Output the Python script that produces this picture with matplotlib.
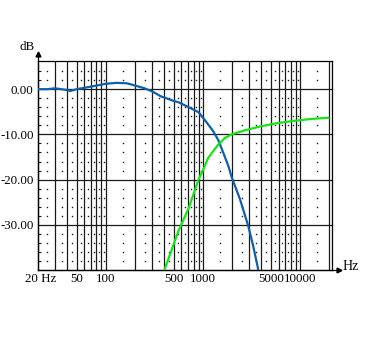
import matplotlib
matplotlib.use("Agg")
import matplotlib.pyplot as plt
import numpy as np

# (Hz, dB)
blue_hz = [20, 25, 30, 40, 43, 50, 60, 80, 100, 130, 165, 200, 250, 300, 370,
           500, 560, 715, 900, 1000, 1130, 1275, 1440, 1620, 1825, 1970, 2400,
           2920, 3280, 3680, 3750]
blue_db = [0.0, 0.0, 0.2, -0.2, -0.4, 0.0, 0.3, 0.8, 1.2, 1.4, 1.3, 0.8, 0.2,
           -0.5, -1.6, -2.6, -2.9, -4.0, -5.1, -6.3, -7.8, -9.3, -11.3, -14.1,
           -17.0, -19.4, -24.3, -30.2, -34.6, -39.6, -41.0]

green_hz = [400, 560, 715, 900, 1010, 1130, 1275, 1440, 1680, 1970, 2700,
            3970, 5840, 8700, 12800, 20000]
green_db = [-40.0, -31.3, -26.2, -20.0, -17.7, -15.2, -13.7, -12.2, -10.8,
            -10.0, -9.1, -8.2, -7.5, -7.0, -6.6, -6.3]

x_ticks = [50, 100, 500, 1000, 5000, 10000]
x_labels = ["50", "100", "500", "1000", "5000", "10000"]
y_ticks = [0, -10, -20, -30]
y_labels = ["0.00", "-10.00", "-20.00", "-30.00"]

XMIN, XMAX = 20, 21300
YMIN, YMAX = -40, 6.3
SERIF = "Liberation Serif"
FS = 9.3
GRID = "#1a1a1a"

fig = plt.figure(figsize=(3.65, 3.4), dpi=100)
ax = fig.add_axes([38 / 365, 70 / 340, 294 / 365, 209.3 / 340])
ax.set_xscale("log")
ax.set_xlim(XMIN, XMAX)
ax.set_ylim(YMIN, YMAX)

# major grid: vertical lines at 1..9 x decade, horizontal every 10 dB
vgrid = [m * 10 ** d for d in range(1, 5) for m in range(1, 10)]
vgrid = [v for v in vgrid if XMIN < v <= 20000]
for v in vgrid:
    ax.axvline(v, color=GRID, lw=0.9, zorder=1)
for h in y_ticks:
    ax.axhline(h, color=GRID, lw=0.9, zorder=1)

# dotted minor grid: half steps in x, every 2 dB in y
dot_x = [(m + 0.5) * 10 ** d for d in range(1, 5) for m in range(1, 10)]
dot_x = [v for v in dot_x if XMIN < v < 20000]
dot_y = [v for v in range(-38, 6, 2) if v % 10 != 0]
dx, dy = np.meshgrid(dot_x, dot_y)
ax.plot(dx.ravel(), dy.ravel(), ls="none", marker="s", ms=1.0,
        mec="none", mfc=GRID, zorder=1)
ax.set_yticks(dot_y, minor=True)
ax.tick_params(axis="y", which="minor", direction="in", length=2,
               width=0.8, color=GRID)

ax.plot(blue_hz, blue_db, color="#0f5fb0", lw=1.6, zorder=3,
        solid_capstyle="butt")
ax.plot(green_hz, green_db, color="#14e614", lw=1.6, zorder=3,
        solid_capstyle="butt")

for s in ax.spines.values():
    s.set_color("black")
    s.set_linewidth(0.9)

ax.set_xticks(x_ticks)
ax.set_xticklabels(x_labels)
ax.xaxis.set_minor_locator(matplotlib.ticker.NullLocator())
ax.set_yticks(y_ticks)
ax.set_yticklabels(y_labels)
ax.tick_params(axis="both", which="major", length=0)
ax.tick_params(axis="x", pad=2.5)
ax.tick_params(axis="y", pad=3.2)
for lab in ax.get_xticklabels() + ax.get_yticklabels():
    lab.set_fontfamily(SERIF)
    lab.set_fontsize(FS)

# axis arrows
ax.plot([0, 0], [0, 1.032], transform=ax.transAxes, color="black",
        lw=0.9, clip_on=False)
ax.plot([0], [1.032], transform=ax.transAxes, marker="^", ms=3.5,
        color="black", clip_on=False)
ax.plot([0, 1.024], [0, 0], transform=ax.transAxes, color="black",
        lw=0.9, clip_on=False)
ax.plot([1.024], [0], transform=ax.transAxes, marker=">", ms=3.5,
        color="black", clip_on=False)

fig.text(27 / 365, 1 - 47 / 340, "dB", family=SERIF, fontsize=FS,
         ha="center", va="center")
fig.text(351 / 365, 1 - 266 / 340, "Hz", family=SERIF, fontsize=10,
         ha="center", va="center")
fig.text(41 / 365, 1 - 278.5 / 340, "20 Hz", family=SERIF, fontsize=FS,
         ha="center", va="center")

fig.savefig("out.png", dpi=100)
